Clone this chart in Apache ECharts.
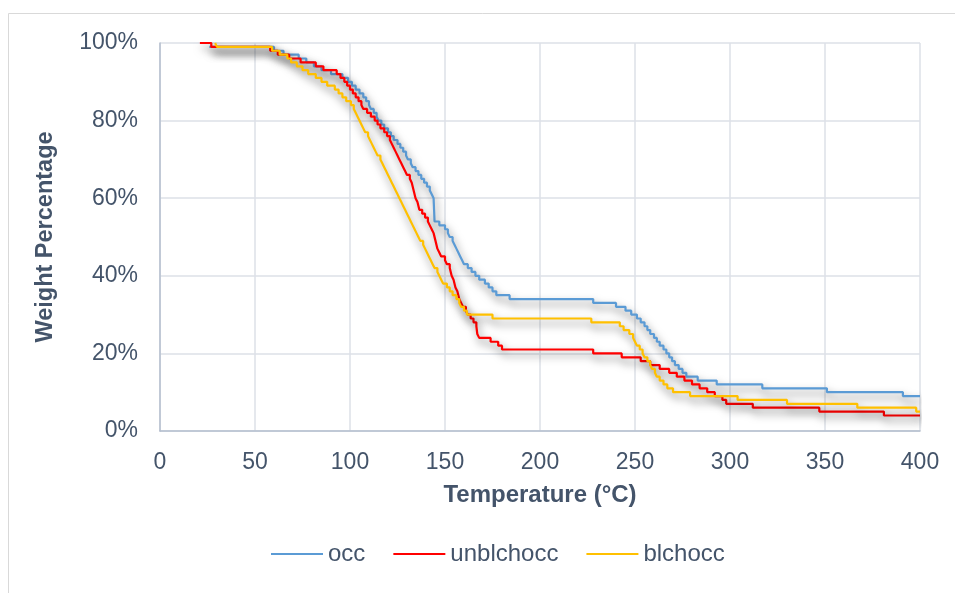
<!DOCTYPE html>
<html>
<head>
<meta charset="utf-8">
<script src="https://cdn.jsdelivr.net/npm/echarts@6/dist/echarts.min.js"></script>
<style>
html,body{margin:0;padding:0;background:#fff;}
#chart{width:955px;height:593px;}
</style>
</head>
<body>
<div id="chart"></div>
<script>
// Temperature (°C) / Weight (%) step points
const occX = [26,60,65,68,73,77,81,85,90,96,99,101,103,105,107,108.5,110,111,112.5,114,115,116.5,118,120,121.5,123,125,126.5,128,129.5,130.5,132,133,134.5,136,137.5,139,140.5,142,143,144,144.5,147,150,151.5,152.5,154,155,156,157,158,159,160,162,164,166,168,171,173,175,177,184,228,240,245,248,251,253,255,256.5,258,260,261.5,263,265,266.5,268,269.5,271,273,275,277,283,293,317,351,391,400];
const occY = [99,98,97,97,96,95,94,93,92,91,90,89,88,87,86,85,84,83,82,81,80,79,78,77,76,75,74,73,72,71,70,69,68,67,66,65,64,63,62,61,60,54,53,52,51,50,49,48,47,46,45,44,43,42,41,40,39,38,37,36,35,34,33,32,31,30,29,28,27,26,25,24,23,22,21,20,19,18,17,16,15,14,13,12,11,10,9,9];

const unblX = [21,27,58,62,68,74,82,86,93,95,97,98.5,100,101.5,103,104.5,106,107,109,111,113,114.5,116,118,119.5,121,122,123,124,125,126,127,128,129,130,131.5,132.5,133.5,134.5,135.5,136.5,138,139.5,141,142,143,144,145,146,147,148,150,151,152.5,153.5,154.5,155.5,156.5,157.5,158.5,159.5,161,162,163.5,165,166.5,167,168,174,178,180,228,243,253,258,263,268,272,276,280,284,288,292,296,298,312,347,381,400];
const unblY = [100,99,98,97,96,95,94,93,92,91,90,89,88,87,86,85,84,83,82,81,80,79,78,77,76,75,74,73,72,71,70,69,68,67,66,65,64,62,60,59,57,56,55,54,53,52,51,49,47,46,45,44,43,42,40,39,37,36,34,33,32,31,30,29,28,27,25,24,23,22,21,20,19,18,17,16,15,14,13,12,11,10,9,8,7,6,5,4,4];

const blX = [29,30,59,63,67,69,72,75,78,82,85,88,92,94,96,98,100.5,102,103,104,105,106,107,108,109.5,110.5,111.5,112.5,113.5,114.5,116,117,118,119,120,121,122,123,124,125,126,127,128,129,130,131,132,133,134,135,136,137,138.5,139.5,140.5,141.5,142.5,143.5,144.5,146,147,148,149,151,152.5,154,156,157.5,158.5,160,161.5,175,227,242,244,247,249,250,251,252.5,254,255,256.5,258,259,260.5,261.5,263,265,267,270,279,304,330,367,398,400];
const blY = [100,99,98,97,96,95,94,93,92,91,90,89,88,87,86,85,84,83,82,81,80,79,78,77,76,75,74,73,72,71,70,69,68,67,66,65,64,63,62,61,60,59,58,57,56,55,54,53,52,51,50,49,48,47,46,45,44,43,42,41,40,39,38,37,36,35,34,33,32,31,30,29,28,27,26,25,24,23,22,21,20,19,18,17,16,15,14,13,12,11,10,9,8,7,6,5,5];

const seriesNames = ['occ','unblchocc','blchocc'];
const xTicks = {min:0, max:400, interval:50};
const yTicks = {min:0, max:100, interval:20};

function zip(xs, ys){ return xs.map((x,i)=>[x, ys[i]]); }

const textColor = '#44546A';
const fontFam = '"Liberation Sans", Arial, sans-serif';
const shadow = {shadowColor:'rgba(0,0,0,0.55)', shadowBlur:8, shadowOffsetX:2, shadowOffsetY:5};

const chart = echarts.init(document.getElementById('chart'), null, {renderer:'canvas'});
chart.setOption({
  backgroundColor:'#fff',
  animation:false,
  graphic:[{type:'rect', shape:{x:8.5, y:13.5, width:960, height:600}, style:{fill:'none', stroke:'#D9D9D9', lineWidth:1}, silent:true, z:-10}],
  grid:{left:160, right:35, top:43, bottom:162},
  legend:{
    bottom:22, left:266, itemGap:28, itemWidth:52, itemHeight:2, icon:'rect',
    textStyle:{color:textColor, fontSize:24, fontFamily:fontFam},
    data:seriesNames
  },
  xAxis:{
    type:'value', min:xTicks.min, max:xTicks.max, interval:xTicks.interval,
    name:'Temperature (°C)', nameLocation:'middle', nameGap:52,
    nameTextStyle:{color:textColor, fontSize:24, fontWeight:'bold', fontFamily:fontFam},
    axisLine:{show:true, lineStyle:{color:'#B4BFCE', width:1.5}},
    axisTick:{show:false},
    axisLabel:{color:textColor, fontSize:23, margin:20, fontFamily:fontFam},
    splitLine:{show:true, lineStyle:{color:'#DCE0E7', width:1.5}}
  },
  yAxis:{
    type:'value', min:yTicks.min, max:yTicks.max, interval:yTicks.interval,
    name:'Weight Percentage', nameLocation:'middle', nameGap:102,
    nameTextStyle:{color:textColor, fontSize:23.5, fontWeight:'bold', fontFamily:fontFam},
    axisLine:{show:true, lineStyle:{color:'#B4BFCE', width:1.5}},
    axisTick:{show:false},
    axisLabel:{color:textColor, fontSize:23, margin:22, fontFamily:fontFam, formatter:'{value}%'},
    splitLine:{show:true, lineStyle:{color:'#DCE0E7', width:1.5}}
  },
  series:[
    {name:seriesNames[0], type:'line', step:'end', showSymbol:false, symbol:'none', data:zip(occX, occY),
     lineStyle:Object.assign({color:'#5B9BD5', width:2.2}, shadow), itemStyle:{color:'#5B9BD5'}},
    {name:seriesNames[1], type:'line', step:'end', showSymbol:false, symbol:'none', data:zip(unblX, unblY),
     lineStyle:Object.assign({color:'#FF0000', width:2.2}, shadow), itemStyle:{color:'#FF0000'}},
    {name:seriesNames[2], type:'line', step:'end', showSymbol:false, symbol:'none', data:zip(blX, blY),
     lineStyle:Object.assign({color:'#FFC000', width:2.2}, shadow), itemStyle:{color:'#FFC000'}}
  ]
});
</script>
</body>
</html>
